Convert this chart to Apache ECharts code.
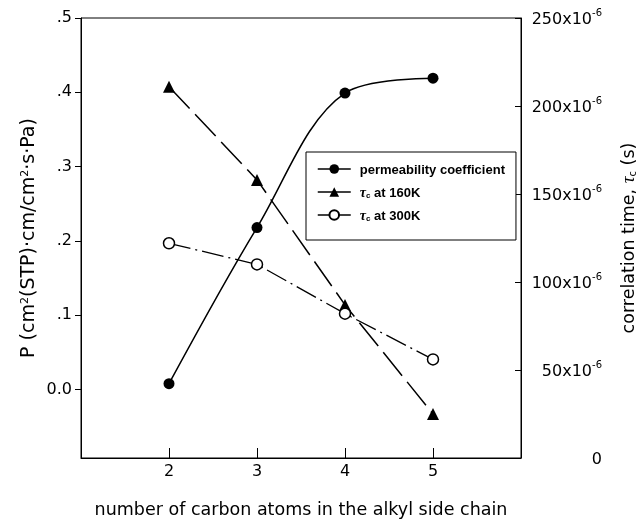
<!DOCTYPE html>
<html><head><meta charset="utf-8">
<script src="https://cdn.jsdelivr.net/npm/echarts@6/dist/echarts.min.js"></script>
<style>html,body{margin:0;padding:0;background:#fff}#c{width:639px;height:521px}</style>
</head><body><div id="c"></div>
<script>
const carbons = [2, 3, 4, 5];
const permeability = [0.008, 0.218, 0.399, 0.419];
const tau160 = [211, 158, 87, 25];   // x10^-6 s
const tau300 = [122, 110, 82, 56];   // x10^-6 s
const leftTicks = [0, 0.1, 0.2, 0.3, 0.4, 0.5];
const leftTickLabels = ['0.0', '.1', '.2', '.3', '.4', '.5'];
const rightTicks = [0, 50, 100, 150, 200, 250];
const xTicks = [2, 3, 4, 5];
const seriesNames = ['permeability coefficient', 'τc at 160K', 'τc at 300K'];

const FONT = 'DejaVu Sans';
const pairs = (ys) => carbons.map((x, i) => [x, ys[i]]);

const chart = echarts.init(document.getElementById('c'), null, {renderer: 'canvas'});
chart.setOption({
  animation: false,
  backgroundColor: '#fff',
  grid: {left: 81, right: 118, top: 18, bottom: 63, show: true, borderColor: '#000', borderWidth: 1,
         backgroundColor: 'transparent', containLabel: false, outerBoundsMode: 'none'},
  legend: {
    orient: 'vertical', left: 306, top: 152,
    itemWidth: 33, itemHeight: 12, itemGap: 9,
    padding: [12, 11, 17, 11],
    borderColor: '#000', borderWidth: 1, backgroundColor: '#fff',
    data: seriesNames,
    lineStyle: {type: 'solid', width: 1.5, color: '#000'},
    textStyle: {
      fontFamily: 'Liberation Sans', fontWeight: 'bold', fontSize: 13, color: '#000', padding: [0, 0, 0, 4],
      rich: {
        b: {fontFamily: 'Liberation Sans', fontWeight: 'bold', fontSize: 13, color: '#000', lineHeight: 16, verticalAlign: 'bottom'},
        t: {fontFamily: 'Liberation Serif', fontStyle: 'italic', fontSize: 14, color: '#000', lineHeight: 16, verticalAlign: 'bottom'},
        s: {fontFamily: 'Liberation Sans', fontSize: 8, color: '#000', verticalAlign: 'bottom', lineHeight: 12}
      }
    },
    formatter: (name) => name.charAt(0) === 'τ' ? '{t|τ}{s|c}{b|' + name.slice(2) + '}' : '{b|' + name + '}'
  },
  xAxis: {
    type: 'value', min: 1, max: 6, interval: 1,
    name: 'number of carbon atoms in the alkyl side chain',
    nameLocation: 'middle', nameGap: 43,
    nameTextStyle: {fontFamily: FONT, fontSize: 17.5, color: '#000'},
    axisLine: {show: true, onZero: false, lineStyle: {color: '#000', width: 1}},
    axisTick: {show: true, inside: true, length: 10, customValues: xTicks, lineStyle: {color: '#000'}},
    axisLabel: {customValues: xTicks, margin: 6, fontFamily: FONT, fontSize: 16, color: '#000'},
    splitLine: {show: false}
  },
  yAxis: [
    {
      type: 'value', position: 'left', min: -0.092, max: 0.5,
      name: 'P (cm{sup|2}(STP)·cm/cm{sup|2}·s·Pa)',
      nameLocation: 'middle', nameGap: 42, nameRotate: 90, nameMoveOverlap: false,
      nameTextStyle: {
        fontFamily: FONT, fontSize: 19, color: '#000',
        rich: {sup: {fontFamily: FONT, fontSize: 11, color: '#000', verticalAlign: 'top'}}
      },
      axisLine: {show: true, onZero: false, lineStyle: {color: '#000', width: 1}},
      axisTick: {show: true, inside: false, length: 6, customValues: leftTicks, lineStyle: {color: '#000'}},
      axisLabel: {
        customValues: leftTicks, margin: 9, fontFamily: FONT, fontSize: 16, color: '#000',
        formatter: (v) => { const i = leftTicks.findIndex(t => Math.abs(t - v) < 1e-9); return i >= 0 ? leftTickLabels[i] : ''; }
      },
      splitLine: {show: false}
    },
    {
      type: 'value', position: 'right', min: 0, max: 250, interval: 50,
      name: '{n|correlation time, }{t|τ}{s|c}{n| (s)}',
      nameLocation: 'middle', nameGap: 95, nameRotate: 90,
      nameTextStyle: {
        fontFamily: FONT, fontSize: 17.5, color: '#000',
        rich: {
          n: {fontFamily: FONT, fontSize: 17.5, color: '#000', lineHeight: 22, verticalAlign: 'bottom'},
          t: {fontFamily: 'Liberation Serif', fontStyle: 'italic', fontSize: 19, color: '#000', lineHeight: 22, verticalAlign: 'bottom'},
          s: {fontFamily: FONT, fontSize: 10, color: '#000', lineHeight: 14, verticalAlign: 'bottom'}
        }
      },
      axisLine: {show: true, onZero: false, lineStyle: {color: '#000', width: 1}},
      axisTick: {show: true, inside: true, length: 6, lineStyle: {color: '#000'}},
      axisLabel: {
        margin: 81, align: 'right', fontFamily: FONT, fontSize: 16, color: '#000',
        formatter: (v) => v === 0 ? '{a|0}' : '{a|' + v + 'x10}{e|-6}',
        rich: {
          a: {fontFamily: FONT, fontSize: 16, color: '#000', lineHeight: 20, verticalAlign: 'bottom'},
          e: {fontFamily: FONT, fontSize: 10, color: '#000', verticalAlign: 'top', lineHeight: 12}
        }
      },
      splitLine: {show: false}
    }
  ],
  series: [
    {
      name: seriesNames[0], type: 'line', yAxisIndex: 0, data: pairs(permeability),
      smooth: 0.35, symbol: 'circle', symbolSize: 11,
      itemStyle: {color: '#000'},
      lineStyle: {color: '#000', width: 1.5, type: 'solid'}
    },
    {
      name: seriesNames[1], type: 'line', yAxisIndex: 1, data: pairs(tau160),
      symbol: 'triangle', symbolSize: 12,
      itemStyle: {color: '#000'},
      lineStyle: {color: '#000', width: 1.5, type: [30, 8]}
    },
    {
      name: seriesNames[2], type: 'line', yAxisIndex: 1, data: pairs(tau300),
      symbol: 'circle', symbolSize: 11,
      itemStyle: {color: '#fff', borderColor: '#000', borderWidth: 1.5},
      lineStyle: {color: '#000', width: 1.3, type: [22, 5, 2, 5]}
    }
  ]
});
</script></body></html>
